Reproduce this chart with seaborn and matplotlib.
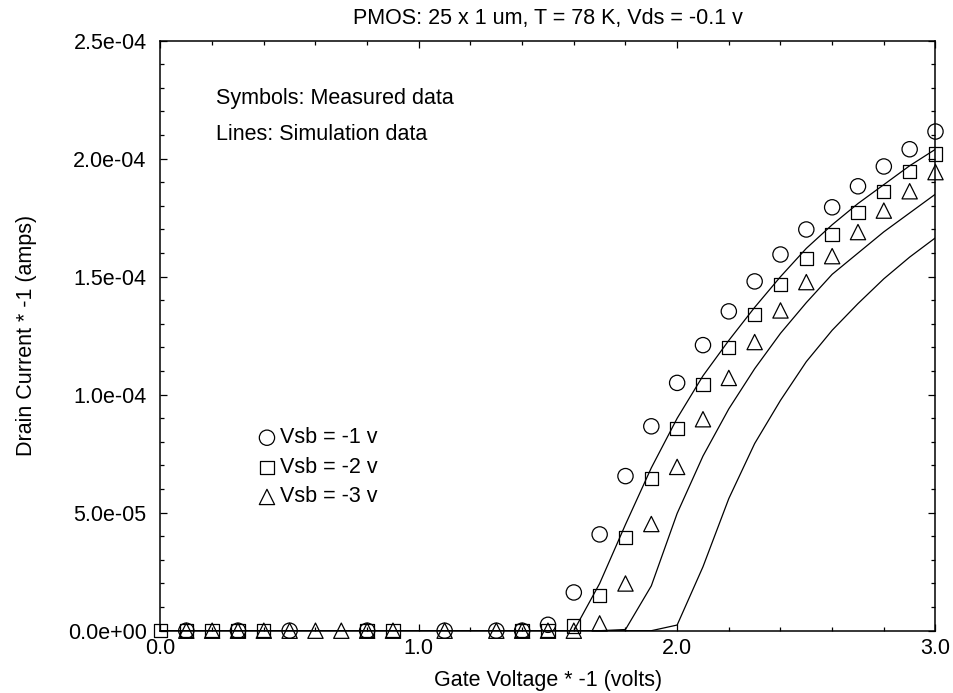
# Libraries
import numpy as np
import seaborn as sns
import matplotlib.pyplot as plt
from matplotlib.ticker import MultipleLocator, FuncFormatter

nan = np.nan

# Gate voltage * -1 (volts)
gate_v = [0.0, 0.1, 0.2, 0.3, 0.4, 0.5, 0.6, 0.7, 0.8, 0.9, 1.0,
          1.1, 1.2, 1.3, 1.4, 1.5, 1.6, 1.7, 1.8, 1.9, 2.0,
          2.1, 2.2, 2.3, 2.4, 2.5, 2.6, 2.7, 2.8, 2.9, 3.0]

# Measured drain current * -1 (amps)
meas_vsb1 = [nan, 0, nan, 0, nan, 0, nan, nan, 0, nan, nan,
             0, nan, 0, 0, 2.5e-6, 1.62e-5, 4.08e-5, 6.55e-5, 8.66e-5, 1.05e-4,
             1.21e-4, 1.353e-4, 1.48e-4, 1.594e-4, 1.70e-4, 1.794e-4, 1.883e-4, 1.967e-4, 2.04e-4, 2.115e-4]
meas_vsb2 = [0, 0, 0, 0, 0, nan, nan, nan, 0, 0, nan,
             nan, nan, nan, 0, 0, 2.0e-6, 1.48e-5, 3.95e-5, 6.45e-5, 8.57e-5,
             1.043e-4, 1.20e-4, 1.339e-4, 1.466e-4, 1.578e-4, 1.679e-4, 1.773e-4, 1.862e-4, 1.945e-4, 2.02e-4]
meas_vsb3 = [nan, 0, 0, 0, 0, 0, 0, 0, 0, 0, nan,
             0, nan, 0, 0, 0, 0, 3.1e-6, 2.0e-5, 4.52e-5, 6.94e-5,
             8.96e-5, 1.071e-4, 1.223e-4, 1.357e-4, 1.477e-4, 1.587e-4, 1.689e-4, 1.78e-4, 1.862e-4, 1.943e-4]

# Simulated drain current * -1 (amps)
sim_vsb1 = [0, 0, 0, 0, 0, 0, 0, 0, 0, 0, 0,
            0, 0, 0, 0, 0, 0, 2.0e-5, 4.5e-5, 6.9e-5, 9.0e-5,
            1.08e-4, 1.23e-4, 1.37e-4, 1.50e-4, 1.62e-4, 1.72e-4, 1.81e-4, 1.89e-4, 1.97e-4, 2.04e-4]
sim_vsb2 = [0, 0, 0, 0, 0, 0, 0, 0, 0, 0, 0,
            0, 0, 0, 0, 0, 0, 0, 5.0e-7, 1.9e-5, 4.97e-5,
            7.4e-5, 9.4e-5, 1.11e-4, 1.26e-4, 1.39e-4, 1.51e-4, 1.60e-4, 1.69e-4, 1.77e-4, 1.85e-4]
sim_vsb3 = [0, 0, 0, 0, 0, 0, 0, 0, 0, 0, 0,
            0, 0, 0, 0, 0, 0, 0, 0, 0, 2.4e-6,
            2.71e-5, 5.6e-5, 7.93e-5, 9.76e-5, 1.14e-4, 1.273e-4, 1.386e-4, 1.491e-4, 1.583e-4, 1.665e-4]

labels = ['Vsb = -1 v', 'Vsb = -2 v', 'Vsb = -3 v']
markers = ['o', 's', '^']
sizes = [121, 92, 121]

# Style
sns.set_style('ticks')
plt.rcParams['font.family'] = ['Liberation Sans', 'DejaVu Sans']
plt.rcParams['text.color'] = 'black'
plt.rcParams['axes.labelcolor'] = 'black'
fs = 15.5

fig = plt.figure(figsize=(9.54, 6.93), dpi=100)
ax = fig.add_axes([0.1682, 0.0899, 0.8124, 0.8514])

# Simulation lines
for sim in [sim_vsb1, sim_vsb2, sim_vsb3]:
    sns.lineplot(x=gate_v, y=sim, ax=ax, color='black', linewidth=0.9,
                 sort=False, estimator=None, legend=False)

# Measured symbols
handles = []
for vals, mk, s, lab in zip([meas_vsb1, meas_vsb2, meas_vsb3], markers, sizes, labels):
    sns.scatterplot(x=gate_v, y=vals, ax=ax, marker=mk, s=s, color='black',
                    facecolors='none', edgecolor='black', linewidth=0.9,
                    clip_on=False, zorder=3, legend=False)
    handles.append(ax.collections[-1])

ax.set_xlim(0, 3.0)
ax.set_ylim(0, 2.5e-4)
ax.xaxis.set_major_locator(MultipleLocator(1.0))
ax.xaxis.set_minor_locator(MultipleLocator(0.2))
ax.yaxis.set_major_locator(MultipleLocator(5e-5))
ax.yaxis.set_minor_locator(MultipleLocator(1e-5))
ax.xaxis.set_major_formatter(FuncFormatter(lambda v, p: f'{v:.1f}'))
ax.yaxis.set_major_formatter(FuncFormatter(lambda v, p: f'{v:.1e}'))
ax.tick_params(which='both', direction='in', top=True, right=True,
               color='black', width=0.9, labelsize=fs, labelcolor='black')
ax.tick_params(which='major', length=5)
ax.tick_params(which='minor', length=3)
ax.tick_params(axis='x', which='major', pad=5)
ax.tick_params(axis='y', which='major', pad=10)
for sp in ax.spines.values():
    sp.set_visible(True)
    sp.set_linewidth(1.1)
    sp.set_color('black')

ax.set_title('PMOS: 25 x 1 um, T = 78 K, Vds = -0.1 v', fontsize=fs, pad=12)
ax.set_xlabel('Gate Voltage * -1 (volts)', fontsize=fs, va='baseline')
ax.set_ylabel('Drain Current * -1 (amps)', fontsize=fs)
ax.xaxis.set_label_coords(0.5, -0.094)
ax.yaxis.set_label_coords(-0.159, 0.5)

ax.text(0.072, 0.8927, 'Symbols: Measured data', transform=ax.transAxes,
        fontsize=fs, va='baseline')
ax.text(0.072, 0.8317, 'Lines: Simulation data', transform=ax.transAxes,
        fontsize=fs, va='baseline')

ax.legend(handles, labels, loc='upper left', bbox_to_anchor=(0.127, 0.345),
          frameon=False, borderpad=0, borderaxespad=0, handlelength=0.75,
          handletextpad=0.22, labelspacing=0.4, fontsize=fs,
          scatteryoffsets=[0.36])

plt.savefig('out.png', dpi=100)
